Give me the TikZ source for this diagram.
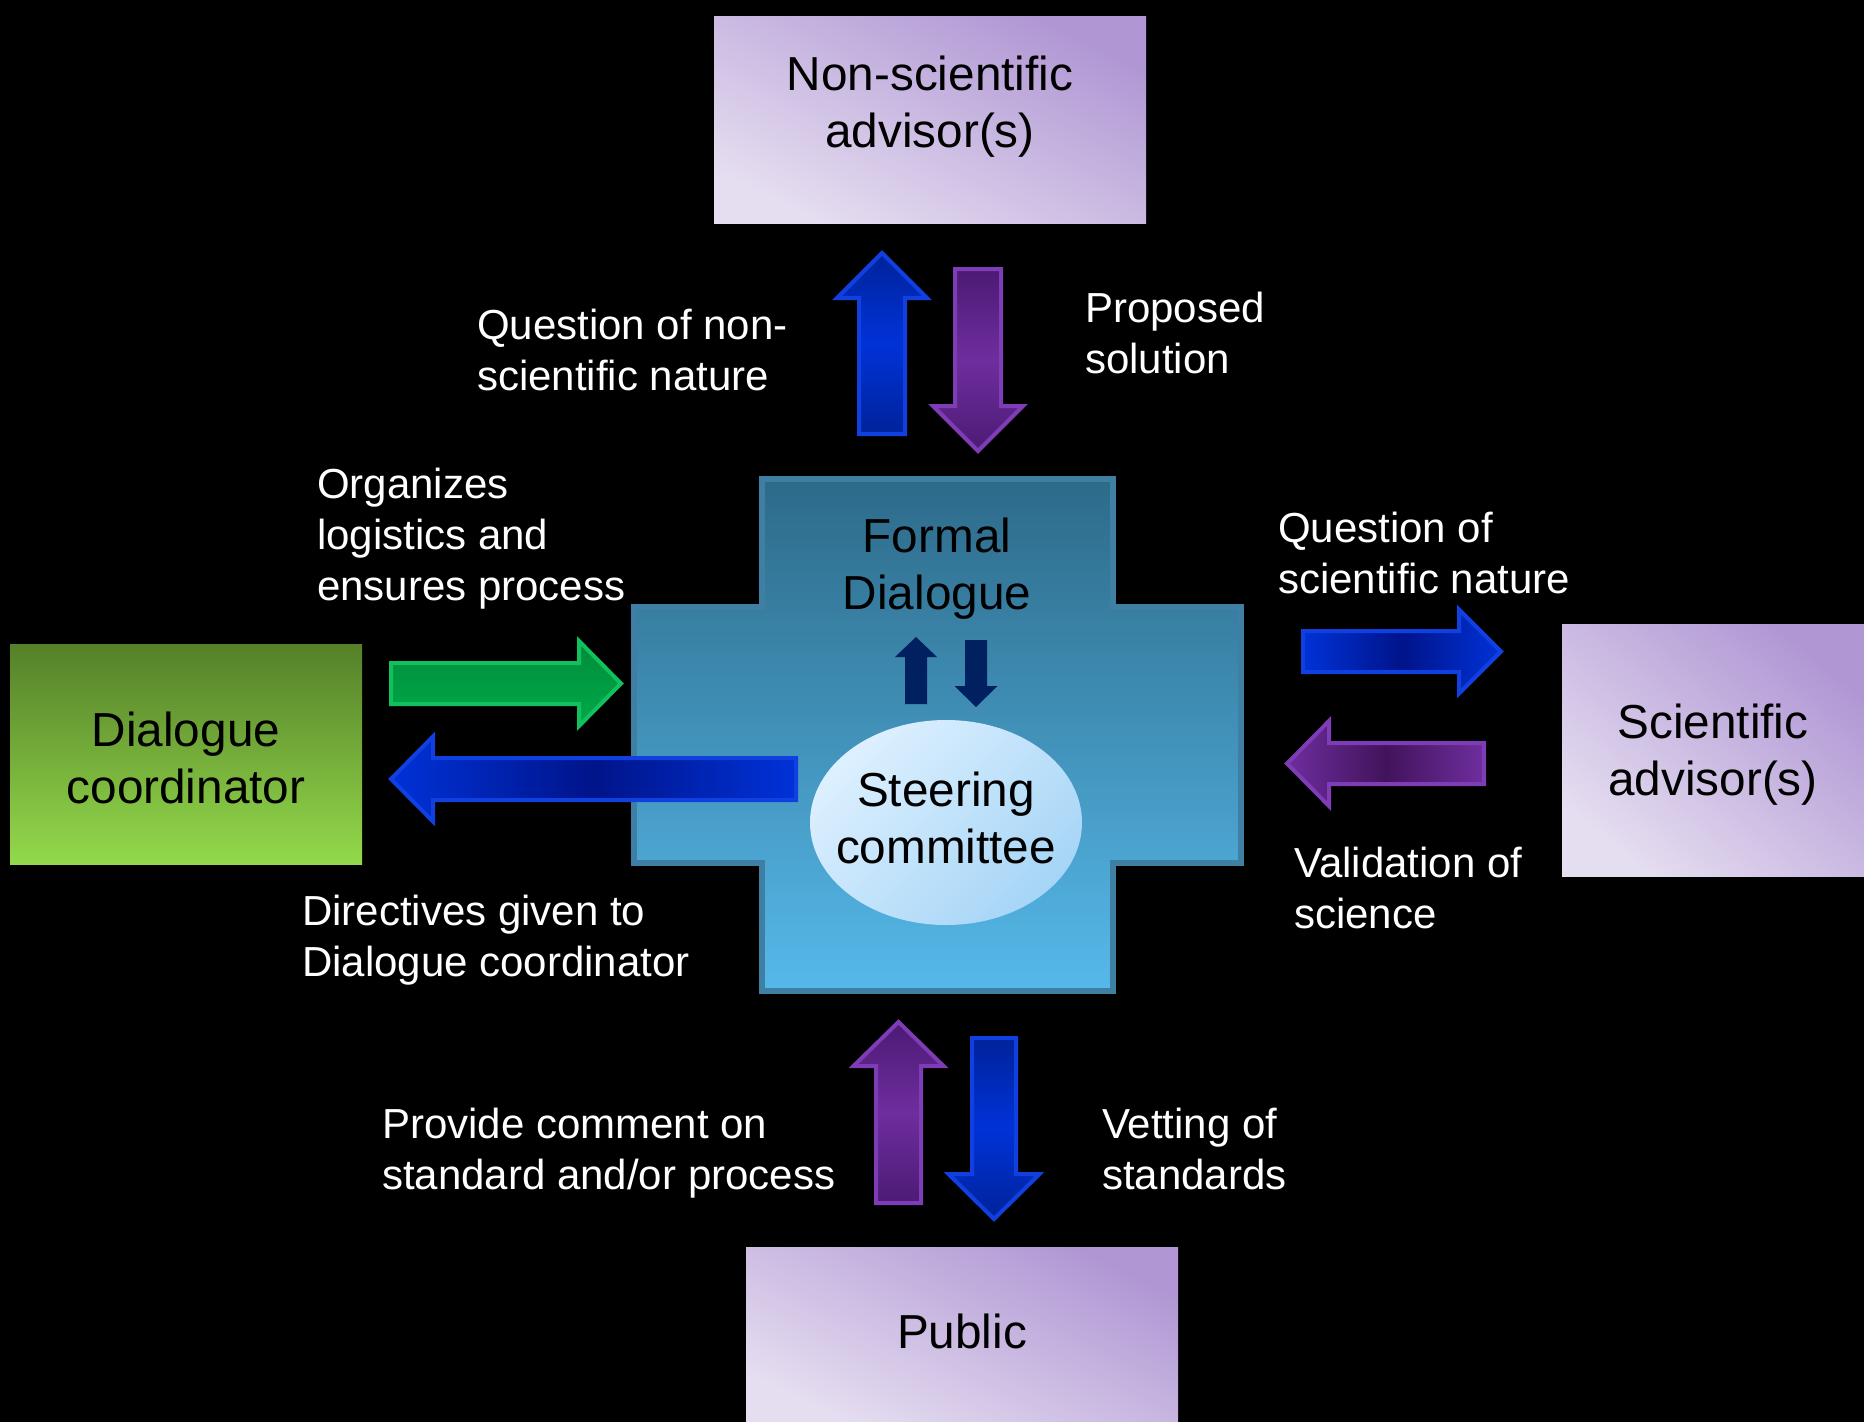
\documentclass[tikz,border=0pt]{standalone}
\usepackage{fontspec}
\setmainfont{Liberation Sans}
\usetikzlibrary{shapes.geometric}
\definecolor{pdark}{HTML}{B097D4}
\definecolor{plight}{HTML}{E5DDF0}
\definecolor{gtop}{HTML}{558029}
\definecolor{gbot}{HTML}{93D94B}
\definecolor{ctop}{HTML}{2D6A89}
\definecolor{cbot}{HTML}{56B9EA}
\definecolor{cedge}{HTML}{3F7FA3}
\definecolor{etl}{HTML}{DDF0FF}
\definecolor{ebr}{HTML}{A6D5F6}
\definecolor{navyarr}{HTML}{002060}
\definecolor{bedge}{HTML}{1040E0}
\definecolor{bbright}{HTML}{0032D8}
\definecolor{bdark}{HTML}{00148A}
\definecolor{bvdark}{HTML}{00239A}
\definecolor{pedge}{HTML}{7E3CB6}
\definecolor{pbright}{HTML}{6E2E9E}
\definecolor{pdarkarr}{HTML}{42135C}
\definecolor{pvdark}{HTML}{4C1A74}
\definecolor{gaedge}{HTML}{12C05E}
\definecolor{gatop}{HTML}{008C3A}
\definecolor{gabot}{HTML}{00AA4A}
\newcommand\twoc[2]{\vtop{\halign{\hfil##\hfil\cr#1\cr#2\cr}}}
\newcommand\twol[2]{\vtop{\hbox{#1}\hbox{#2}}}
\newcommand\threel[3]{\vtop{\hbox{#1}\hbox{#2}\hbox{#3}}}
\newcommand\myharr[7]{\path[#1] (#2,#5-#6) -- (#3,#5-#6) -- (#3,#5-#7) -- (#4,#5) -- (#3,#5+#7) -- (#3,#5+#6) -- (#2,#5+#6) -- cycle;}
\newcommand\myvarr[7]{\path[#1] (#5-#6,#2) -- (#5-#6,#3) -- (#5-#7,#3) -- (#5,#4) -- (#5+#7,#3) -- (#5+#6,#3) -- (#5+#6,#2) -- cycle;}
\begin{document}
\begin{tikzpicture}[x=1pt,y=-1pt,
  box/.style={inner sep=0,outer sep=0,draw=none},
  purplebox/.style={box,top color=pdark,bottom color=plight,shading angle=#1},
  greenbox/.style={box,top color=gtop,bottom color=gbot},
  big/.style={font=\fontsize{47.7}{57}\selectfont,text=black,inner sep=0},
  lab/.style={font=\fontsize{42}{51}\selectfont,text=white,inner sep=0,anchor=base west},
  arr/.style={line width=4,line join=miter},
  bluev/.style={arr,draw=bedge,top color=bvdark,bottom color=bvdark,middle color=bbright},
  blueh/.style={arr,draw=bedge,left color=bbright,right color=bbright,middle color=bdark},
  purplev/.style={arr,draw=pedge,top color=pvdark,bottom color=pvdark,middle color=pbright},
  purpleh/.style={arr,draw=pedge,left color=pbright,right color=pbright,middle color=pdarkarr},
  greenh/.style={arr,draw=gaedge,top color=gatop,bottom color=gabot},
  navyar/.style={fill=navyarr}]
\fill[black] (0,0) rectangle (1864,1422);
\useasboundingbox (0,0) rectangle (1864,1422);
% central cross
\path[draw=cedge,line width=6,top color=ctop,bottom color=cbot]
  (762,479) -- (1113,479) -- (1113,607) -- (1241,607) -- (1241,863) -- (1113,863)
  -- (1113,991) -- (762,991) -- (762,863) -- (634,863) -- (634,607) -- (762,607) -- cycle;
\node[ellipse,box,minimum width=272,minimum height=205,top color=etl,bottom color=ebr,shading angle=45] (steer) at (946,822.5) {};
\node[big,anchor=base] (steerT) at (946,806) {\twoc{Steering}{committee}};
\node[big,anchor=base] (formal) at (937,552) {\twoc{Formal}{Dialogue}};
% boxes
\node[purplebox=-26,minimum width=432,minimum height=207] (nonsci) at (930,119.5) {};
\node[big,anchor=base] (nonsciT) at (930,90) {\twoc{Non-scientific}{advisor(s)}};
\node[purplebox=-40,minimum width=302,minimum height=252] (sci) at (1713,750) {};
\node[big,anchor=base] (sciT) at (1713,738) {\twoc{Scientific}{advisor(s)}};
\node[purplebox=-26,minimum width=432,minimum height=175] (public) at (962,1334.5) {};
\node[big,anchor=base] (publicT) at (962,1348) {Public};
\node[greenbox,minimum width=352,minimum height=220] (coord) at (186,754) {};
\node[big,anchor=base] (coordT) at (186,746) {\twoc{Dialogue}{coordinator}};
% arrows
\myvarr{bluev}{434}{298}{253}{882}{23}{45}
\myvarr{purplev}{269}{406}{451}{978}{23}{45}
\myharr{greenh}{391}{579}{621}{683.5}{20.5}{42.5}
\myharr{blueh}{796}{433}{391}{779}{21}{42.5}
\myharr{blueh}{1303}{1459}{1501}{651.5}{20.5}{42}
\myharr{purpleh}{1484}{1329}{1287}{763.5}{20.5}{42.5}
\myvarr{purplev}{1203}{1066}{1022}{898.5}{22.5}{45}
\myvarr{bluev}{1038}{1174}{1219}{994}{22}{45.5}
\myvarr{navyar}{704}{657}{637}{916}{11}{21}
\myvarr{navyar}{640}{686}{707}{976}{11}{21.5}
% labels
\node[lab] (qns) at (477,339) {\twol{Question of non-}{scientific nature}};
\node[lab] (prop) at (1085,322) {\twol{Proposed}{solution}};
\node[lab] (org) at (317,498) {\threel{Organizes}{logistics and}{ensures process}};
\node[lab] (qs) at (1278,542) {\twol{Question of}{scientific nature}};
\node[lab] (val) at (1294,877) {\twol{Validation of}{science}};
\node[lab] (dir) at (302,925) {\twol{Directives given to}{Dialogue coordinator}};
\node[lab] (prov) at (382,1138) {\twol{Provide comment on}{standard and/or process}};
\node[lab] (vet) at (1102,1138) {\twol{Vetting of}{standards}};
\end{tikzpicture}
\end{document}
